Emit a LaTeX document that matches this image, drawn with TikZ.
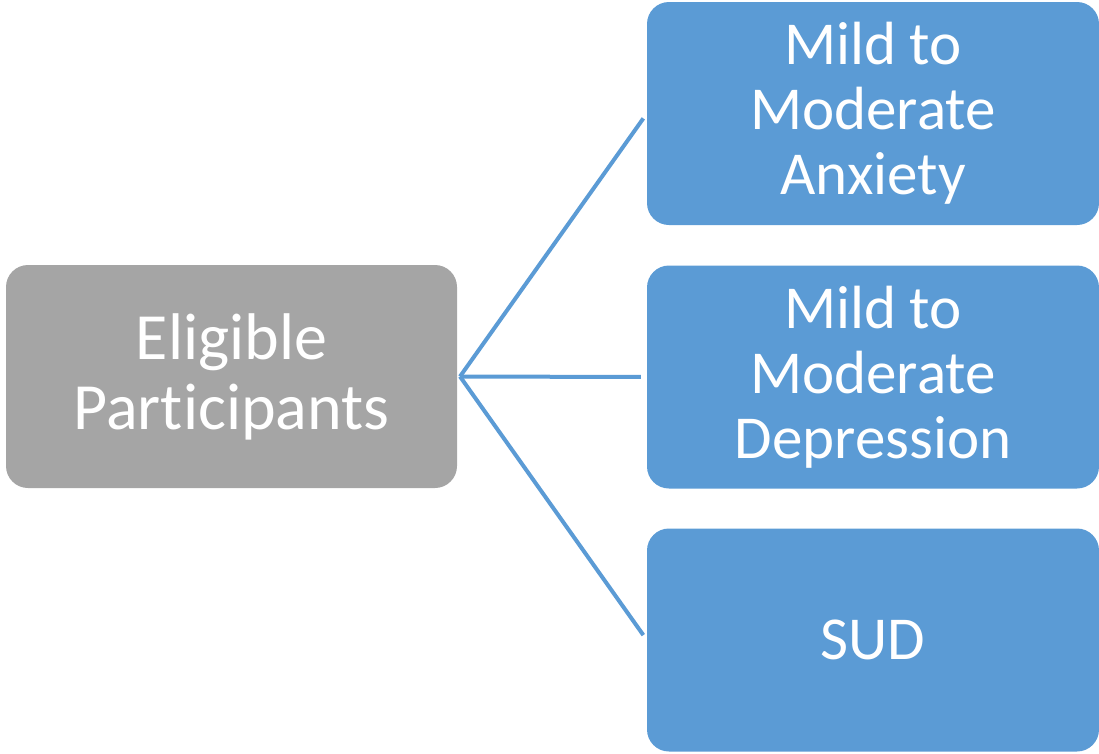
\documentclass[tikz,border=0pt]{standalone}
\usepackage{fontspec}
\setmainfont{Carlito}[Ligatures=NoCommon]
\definecolor{boxgray}{HTML}{A5A5A5}
\definecolor{boxblue}{HTML}{5B9BD5}
\tikzset{
    groupbox/.style = {rectangle, rounded corners = 22pt, fill = boxgray, text = white,
        minimum width = 451pt, minimum height = 223pt, align = center,
        font = \fontsize{66}{70}\selectfont},
    kindbox/.style = {rectangle, rounded corners = 22pt, fill = boxblue, text = white,
        minimum width = 452pt, minimum height = 223pt, align = center,
        font = \fontsize{61}{65}\selectfont},
    branch/.style = {draw = boxblue, line width = 4pt, shorten > = 6pt}
}
\begin{document}
\begin{tikzpicture}[x=1pt,y=-1pt]
    \useasboundingbox (0,0) rectangle (1099,753);
    \def\L{231.5}
    \def\R{873}
    \node[groupbox] (elig) at (\L,376.5) {Eligible\\Participants};
    \coordinate (hub) at (460,376.5);
    \foreach \n/\y/\t in {anx/113.5/{Mild to\\Moderate\\Anxiety},%
    dep/377/{Mild to\\Moderate\\Depression},%
    sud/640/{SUD}}
    {
    \node[kindbox] (\n) at (\R,\y) {\t};
    \draw[branch] (hub) -- (\n.west);
    }
\end{tikzpicture}
\end{document}
